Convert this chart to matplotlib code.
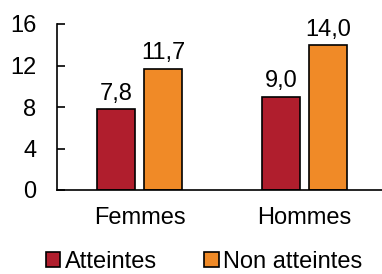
import matplotlib
matplotlib.use("Agg")
from matplotlib import pyplot as plt
from matplotlib.patches import Patch
import numpy as np

categories = ["Femmes", "Hommes"]
series_names = ["Atteintes", "Non atteintes"]
atteintes = [7.8, 9.0]
non_atteintes = [11.7, 14.0]
y_ticks = [0, 4, 8, 12, 16]

RED = "#B01E2D"
ORANGE = "#F08A27"
WIDTH = 0.225
OFFSET = 0.1425
FS = 17

plt.rcParams["font.family"] = ["Liberation Sans", "DejaVu Sans"]

fig = plt.figure(figsize=(3.82, 2.74), dpi=100)
ax = fig.add_axes([57 / 382, 1 - 190 / 274, 1 - 57 / 382, 166 / 274])

x = np.arange(len(categories))
for vals, color, dx in [(atteintes, RED, -OFFSET), (non_atteintes, ORANGE, OFFSET)]:
    bars = ax.bar(x + dx, vals, WIDTH, color=color, edgecolor="black", linewidth=1.2)
    for b, v in zip(bars, vals):
        ax.text(b.get_x() + b.get_width() / 2, v + 0.4, f"{v:.1f}".replace(".", ","),
                ha="center", va="bottom", fontsize=FS)

ax.set_xlim(-0.5, 1.47)
ax.set_ylim(0, 16)
ax.set_yticks(y_ticks)
ax.tick_params(axis="y", direction="in", length=6, width=1.2, labelsize=FS, pad=15)
ax.set_xticks(x)
ax.set_xticklabels(categories)
ax.tick_params(axis="x", length=0, labelsize=FS, pad=12)
for s in ["top", "right"]:
    ax.spines[s].set_visible(False)
for s in ["left", "bottom"]:
    ax.spines[s].set_linewidth(1.2)

handles = [Patch(facecolor=RED, edgecolor="black", linewidth=1.2),
           Patch(facecolor=ORANGE, edgecolor="black", linewidth=1.2)]
fig.legend(handles, series_names, loc="lower center", bbox_to_anchor=(0.535, -0.075),
           ncol=2, frameon=False, fontsize=FS, handlelength=0.6, handleheight=0.6,
           handletextpad=0.2, columnspacing=2.0)

fig.savefig("out.png", dpi=100)
